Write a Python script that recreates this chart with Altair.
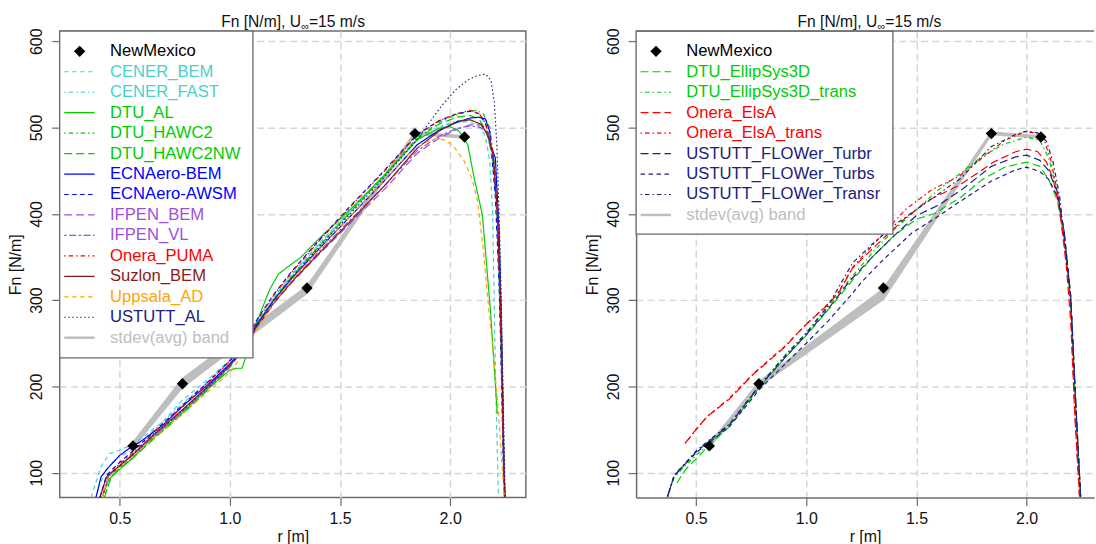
import altair as alt
import pandas as pd

# ------------------------------------------------------------------
# New Mexico measurements and the stdev(avg) band edges
# ------------------------------------------------------------------
nm_r = [0.56, 0.785, 1.35, 1.84, 2.065]
nm_fn = [131, 203, 314, 493, 489]
band_left_lo = [129, 199, 308, 492, 488]
band_left_hi = [135, 209, 316, 494.5, 490]
band_right_lo = [129.5, 200, 301, 492, 488]
band_right_hi = [133, 205, 313, 494.5, 490]

# ------------------------------------------------------------------
# Left panel: BEM / lifting-line / actuator codes
# ------------------------------------------------------------------
cener_bem_r = [0.37, 0.415, 0.453, 0.50, 0.543, 0.60, 0.70, 0.785, 0.90, 1.00, 1.06, 1.12, 1.20, 1.28, 1.40, 1.55, 1.70, 1.85, 1.95, 2.03, 2.08, 2.13, 2.16, 2.18, 2.193, 2.206, 2.219]
cener_bem_fn = [71, 107, 122, 126, 131, 140, 160, 184, 208, 230, 248, 273, 303, 330, 364, 405, 445, 486, 500, 506, 507, 502, 490, 460, 400, 207, 72]

cener_fast_r = [0.39, 0.43, 0.47, 0.50, 0.56, 0.65, 0.785, 0.90, 1.00, 1.06, 1.12, 1.20, 1.28, 1.40, 1.55, 1.70, 1.85, 1.95, 2.03, 2.09, 2.14, 2.17, 2.195, 2.212, 2.225, 2.235, 2.243, 2.247]
cener_fast_fn = [71, 100, 113, 118, 127, 148, 180, 205, 229, 247, 272, 303, 329, 363, 404, 444, 485, 501, 508, 509, 503, 490, 460, 400, 300, 200, 100, 72]

dtu_al_r = [0.42, 0.45, 0.50, 0.56, 0.65, 0.785, 0.90, 1.00, 1.03, 1.055, 1.07, 1.12, 1.18, 1.22, 1.26, 1.32, 1.40, 1.55, 1.70, 1.85, 1.95, 2.00, 2.04, 2.08, 2.11, 2.146, 2.184, 2.214]
dtu_al_fn = [71, 92, 104, 117, 140, 170, 197, 219, 221, 221, 232, 273, 312, 330, 338, 349, 370, 406, 444, 486, 499, 501, 496, 480, 440, 399, 284, 168]

dtu_hawc2_r = [0.43, 0.46, 0.50, 0.56, 0.65, 0.785, 0.90, 1.00, 1.06, 1.12, 1.20, 1.28, 1.40, 1.55, 1.70, 1.85, 1.95, 2.03, 2.09, 2.12, 2.15, 2.18, 2.205, 2.222, 2.232, 2.24, 2.246, 2.25]
dtu_hawc2_fn = [71, 95, 106, 118, 139, 169, 197, 223, 244, 268, 300, 327, 361, 403, 445, 488, 506, 515, 519, 520, 516, 500, 450, 380, 280, 180, 100, 72]

dtu_hawc2nw_r = [0.43, 0.46, 0.50, 0.56, 0.65, 0.785, 0.90, 1.00, 1.06, 1.12, 1.20, 1.28, 1.40, 1.55, 1.70, 1.85, 1.95, 2.03, 2.09, 2.13, 2.16, 2.19, 2.21, 2.225, 2.235, 2.243, 2.248]
dtu_hawc2nw_fn = [71, 94, 105, 117, 138, 168, 196, 222, 243, 270, 301, 327, 361, 403, 444, 487, 504, 512, 514, 510, 498, 470, 410, 300, 200, 100, 72]

ecn_bem_r = [0.392, 0.415, 0.445, 0.50, 0.543, 0.60, 0.70, 0.785, 0.90, 1.00, 1.06, 1.12, 1.20, 1.28, 1.40, 1.55, 1.70, 1.85, 1.95, 2.03, 2.09, 2.13, 2.16, 2.18, 2.185, 2.205, 2.222, 2.232, 2.24, 2.246]
ecn_bem_fn = [71, 95, 105, 120, 128, 137, 156, 177, 202, 226, 245, 271, 300, 325, 358, 398, 438, 480, 497, 506, 511, 512, 510, 495, 478, 465, 380, 280, 170, 72]

ecn_awsm_r = [0.41, 0.44, 0.50, 0.56, 0.65, 0.785, 0.90, 1.00, 1.06, 1.12, 1.20, 1.28, 1.40, 1.55, 1.70, 1.85, 1.95, 2.03, 2.09, 2.13, 2.16, 2.185, 2.205, 2.222, 2.233, 2.241, 2.247]
ecn_awsm_fn = [71, 97, 112, 125, 146, 178, 205, 230, 250, 276, 307, 333, 368, 410, 450, 492, 508, 516, 519, 516, 505, 480, 420, 320, 210, 110, 72]

ifpen_bem_r = [0.42, 0.45, 0.50, 0.56, 0.65, 0.785, 0.90, 1.00, 1.06, 1.12, 1.20, 1.28, 1.40, 1.55, 1.70, 1.85, 1.95, 2.03, 2.09, 2.14, 2.17, 2.195, 2.215, 2.228, 2.237, 2.244, 2.249]
ifpen_bem_fn = [71, 95, 107, 120, 141, 171, 198, 223, 242, 267, 296, 320, 352, 390, 428, 470, 488, 498, 503, 503, 495, 470, 400, 300, 200, 100, 72]

ifpen_vl_r = [0.42, 0.45, 0.50, 0.56, 0.65, 0.785, 0.90, 1.00, 1.06, 1.12, 1.20, 1.28, 1.40, 1.55, 1.70, 1.85, 1.95, 2.03, 2.09, 2.14, 2.17, 2.195, 2.215, 2.228, 2.237, 2.244, 2.249]
ifpen_vl_fn = [71, 96, 108, 121, 142, 172, 199, 224, 243, 268, 298, 322, 355, 394, 432, 473, 490, 499, 502, 500, 492, 468, 400, 300, 200, 100, 72]

onera_puma_r = [0.42, 0.45, 0.50, 0.56, 0.65, 0.785, 0.90, 1.00, 1.06, 1.12, 1.20, 1.28, 1.40, 1.55, 1.70, 1.85, 1.95, 2.03, 2.09, 2.13, 2.16, 2.19, 2.21, 2.225, 2.235, 2.243, 2.248]
onera_puma_fn = [71, 97, 110, 123, 145, 176, 204, 229, 249, 275, 306, 332, 367, 409, 449, 491, 508, 516, 520, 517, 505, 478, 420, 320, 210, 110, 72]

suzlon_bem_r = [0.41, 0.44, 0.50, 0.56, 0.65, 0.785, 0.90, 1.00, 1.06, 1.12, 1.20, 1.28, 1.40, 1.55, 1.70, 1.85, 1.95, 2.03, 2.09, 2.14, 2.17, 2.195, 2.215, 2.228, 2.237, 2.244, 2.249]
suzlon_bem_fn = [71, 95, 108, 121, 143, 173, 200, 225, 243, 268, 297, 321, 353, 392, 432, 476, 496, 507, 509, 504, 492, 468, 400, 300, 200, 100, 72]

uppsala_ad_r = [0.42, 0.45, 0.50, 0.56, 0.65, 0.785, 0.90, 1.00, 1.06, 1.12, 1.20, 1.28, 1.40, 1.55, 1.70, 1.80, 1.88, 1.93, 1.97, 2.01, 2.064, 2.10, 2.124, 2.15, 2.17, 2.195, 2.22, 2.235, 2.245]
uppsala_ad_fn = [71, 95, 107, 119, 139, 168, 194, 216, 238, 266, 298, 323, 357, 398, 438, 467, 482, 487, 486, 480, 461, 440, 415, 360, 303, 240, 168, 110, 72]

ustutt_al_r = [0.41, 0.44, 0.50, 0.56, 0.65, 0.785, 0.90, 1.00, 1.06, 1.12, 1.20, 1.28, 1.40, 1.55, 1.70, 1.85, 1.92, 1.97, 2.03, 2.08, 2.12, 2.16, 2.185, 2.20, 2.212, 2.222, 2.232, 2.242, 2.25]
ustutt_al_fn = [71, 96, 108, 121, 143, 172, 199, 224, 244, 270, 300, 326, 360, 401, 442, 486, 511, 528, 545, 555, 560, 562, 555, 530, 480, 400, 300, 170, 72]

# ------------------------------------------------------------------
# Right panel: CFD codes
# ------------------------------------------------------------------
ellipsys_r = [0.413, 0.45, 0.50, 0.56, 0.65, 0.785, 0.90, 1.00, 1.10, 1.20, 1.30, 1.40, 1.50, 1.58, 1.70, 1.80, 1.90, 2.00, 2.06, 2.10, 2.14, 2.17, 2.20, 2.222, 2.245]
ellipsys_fn = [88, 103, 116, 132, 153, 198, 232, 259, 289, 320, 350, 375, 394, 400, 419, 440, 454, 460, 455, 440, 415, 370, 300, 180, 72]

ellipsys_trans_r = [0.37, 0.40, 0.45, 0.50, 0.56, 0.65, 0.785, 0.90, 1.00, 1.10, 1.20, 1.30, 1.40, 1.50, 1.60, 1.70, 1.80, 1.90, 2.00, 2.06, 2.10, 2.14, 2.17, 2.20, 2.222, 2.245]
ellipsys_trans_fn = [72, 94, 108, 120, 134, 154, 200, 235, 262, 292, 325, 355, 382, 405, 428, 447, 467, 481, 489, 485, 465, 425, 372, 300, 180, 72]

elsa_r = [0.45, 0.50, 0.55, 0.65, 0.76, 0.90, 1.00, 1.10, 1.15, 1.21, 1.27, 1.36, 1.45, 1.55, 1.70, 1.85, 1.95, 2.00, 2.05, 2.09, 2.12, 2.15, 2.18, 2.20, 2.218, 2.24]
elsa_fn = [134, 150, 165, 185, 214, 245, 272, 295, 310, 337, 352, 374, 395, 415, 434, 460, 472, 475, 472, 460, 440, 405, 340, 275, 170, 72]

elsa_trans_r = [0.45, 0.50, 0.55, 0.65, 0.76, 0.90, 1.00, 1.10, 1.15, 1.21, 1.27, 1.36, 1.45, 1.57, 1.69, 1.80, 1.90, 1.99, 2.04, 2.08, 2.11, 2.14, 2.17, 2.20, 2.218, 2.24]
elsa_trans_fn = [134, 150, 165, 186, 215, 246, 272, 296, 311, 338, 355, 380, 405, 428, 443, 465, 485, 495, 494, 485, 462, 425, 370, 295, 170, 72]

flower_turbr_r = [0.37, 0.40, 0.45, 0.50, 0.56, 0.65, 0.79, 0.92, 1.00, 1.10, 1.20, 1.30, 1.40, 1.50, 1.60, 1.70, 1.84, 1.95, 2.00, 2.06, 2.10, 2.14, 2.17, 2.20, 2.225, 2.245]
flower_turbr_fn = [72, 96, 110, 124, 137, 155, 201, 238, 260, 290, 323, 350, 375, 398, 410, 427, 455, 466, 468, 462, 450, 425, 380, 305, 170, 72]

flower_turbs_r = [0.37, 0.40, 0.45, 0.50, 0.56, 0.65, 0.79, 0.92, 1.00, 1.10, 1.20, 1.255, 1.35, 1.48, 1.58, 1.69, 1.84, 1.95, 2.00, 2.06, 2.10, 2.14, 2.17, 2.20, 2.225, 2.245]
flower_turbs_fn = [72, 96, 110, 123, 135, 153, 197, 230, 250, 276, 305, 322, 347, 378, 394, 413, 438, 451, 454, 449, 440, 420, 380, 305, 170, 72]

flower_transr_r = [0.37, 0.40, 0.45, 0.50, 0.56, 0.65, 0.79, 0.92, 1.00, 1.10, 1.21, 1.30, 1.40, 1.50, 1.60, 1.70, 1.84, 1.95, 2.00, 2.05, 2.09, 2.12, 2.15, 2.18, 2.20, 2.225, 2.245]
flower_transr_fn = [72, 97, 111, 125, 138, 156, 202, 240, 262, 294, 343, 365, 387, 405, 423, 441, 478, 492, 496, 494, 484, 460, 420, 350, 300, 170, 72]

# ------------------------------------------------------------------
# Styling
# ------------------------------------------------------------------
FONT = "Liberation Sans"
FRAME = "#6B6B6B"
GRID = "#D6D6D6"
GRAY = "#BEBEBE"
TXT = "#111111"

SOLID = [1, 0]
DASHED = [4.5, 3.5]
LONGDASH = [8, 4]
DOTDASH = [1.5, 3, 4.5, 3]
TWODASH = [2.5, 2.5, 7, 2.5]
DOTTED = [1.5, 2.5]

CYAN, GREEN, BLUE, PURPLE = "#48D1CC", "#00CD00", "#0000FF", "#9B50E0"
RED, DARKRED, ORANGE, NAVY = "#FF0000", "#8B1A1A", "#FFA500", "#202080"

left_series = [
    ("CENER_BEM", cener_bem_r, cener_bem_fn, CYAN, DASHED),
    ("CENER_FAST", cener_fast_r, cener_fast_fn, CYAN, DOTDASH),
    ("DTU_AL", dtu_al_r, dtu_al_fn, GREEN, SOLID),
    ("DTU_HAWC2", dtu_hawc2_r, dtu_hawc2_fn, GREEN, DOTDASH),
    ("DTU_HAWC2NW", dtu_hawc2nw_r, dtu_hawc2nw_fn, GREEN, LONGDASH),
    ("ECNAero-BEM", ecn_bem_r, ecn_bem_fn, BLUE, SOLID),
    ("ECNAero-AWSM", ecn_awsm_r, ecn_awsm_fn, BLUE, DASHED),
    ("IFPEN_BEM", ifpen_bem_r, ifpen_bem_fn, PURPLE, LONGDASH),
    ("IFPEN_VL", ifpen_vl_r, ifpen_vl_fn, PURPLE, TWODASH),
    ("Onera_PUMA", onera_puma_r, onera_puma_fn, RED, DOTDASH),
    ("Suzlon_BEM", suzlon_bem_r, suzlon_bem_fn, DARKRED, SOLID),
    ("Uppsala_AD", uppsala_ad_r, uppsala_ad_fn, ORANGE, DASHED),
    ("USTUTT_AL", ustutt_al_r, ustutt_al_fn, NAVY, DOTTED),
]

right_series = [
    ("DTU_EllipSys3D", ellipsys_r, ellipsys_fn, GREEN, LONGDASH),
    ("DTU_EllipSys3D_trans", ellipsys_trans_r, ellipsys_trans_fn, GREEN, DOTDASH),
    ("Onera_ElsA", elsa_r, elsa_fn, RED, LONGDASH),
    ("Onera_ElsA_trans", elsa_trans_r, elsa_trans_fn, RED, DOTDASH),
    ("USTUTT_FLOWer_Turbr", flower_turbr_r, flower_turbr_fn, NAVY, LONGDASH),
    ("USTUTT_FLOWer_Turbs", flower_turbs_r, flower_turbs_fn, NAVY, DASHED),
    ("USTUTT_FLOWer_Transr", flower_transr_r, flower_transr_fn, NAVY, DOTDASH),
]

R_MIN = 0.2277
FN_MIN, FN_MAX = 71.2, 611.8
PLOT_H = 468.5
ROW0, ROW_STEP = 20.3, 20.55


def one():
    return alt.Data(values=[{"k": 0}])


def panel(series, lo, hi, width, r_max, legend_w, legend_h, title_cx, full_frame):
    names = [s[0] for s in series]
    rows = []
    for name, rs, fns, _, _ in series:
        for i, (r, f) in enumerate(zip(rs, fns)):
            rows.append({"name": name, "r": r, "fn": f, "i": i})
    lines_df = pd.DataFrame(rows)

    xs = alt.Scale(domain=[R_MIN, r_max], nice=False, zero=False)
    ys = alt.Scale(domain=[FN_MIN, FN_MAX], nice=False, zero=False)
    common = dict(
        grid=True, gridDash=[7, 4], gridColor=GRID, gridWidth=1.5,
        domain=not full_frame, domainColor=FRAME, domainWidth=1.5,
        tickSize=8, tickColor=FRAME, tickWidth=1.2,
        labelFontSize=16, labelColor=TXT, labelFont=FONT,
        titleFontSize=16, titleFontWeight="normal", titleColor=TXT, titleFont=FONT,
    )
    xaxis = alt.Axis(values=[0.5, 1.0, 1.5, 2.0], format=".1f", title="r [m]",
                     labelPadding=5, titlePadding=2, **common)
    yaxis = alt.Axis(values=[100, 200, 300, 400, 500, 600], format="d", title="Fn [N/m]",
                     labelAngle=-90, labelAlign="center", labelBaseline="bottom",
                     labelPadding=7, titlePadding=5, **common)

    X = alt.X("r:Q", scale=xs, axis=xaxis)

    band = alt.Chart(pd.DataFrame({"r": nm_r, "lo": lo, "hi": hi})).mark_area(
        color=GRAY, stroke=GRAY, strokeWidth=1.8, opacity=1, clip=True
    ).encode(x=X, y=alt.Y("lo:Q", scale=ys, axis=yaxis), y2="hi:Q")

    lines = alt.Chart(lines_df).mark_line(strokeWidth=1.2, clip=True).encode(
        x=X,
        y=alt.Y("fn:Q", scale=ys, axis=yaxis),
        color=alt.Color("name:N", scale=alt.Scale(domain=names, range=[s[3] for s in series]), legend=None),
        strokeDash=alt.StrokeDash("name:N", scale=alt.Scale(domain=names, range=[s[4] for s in series]), legend=None),
        order="i:Q",
    )

    points = alt.Chart(pd.DataFrame({"r": nm_r, "fn": nm_fn})).mark_point(
        shape="diamond", filled=True, size=130, color="black", opacity=1, clip=True
    ).encode(x=X, y=alt.Y("fn:Q", scale=ys, axis=yaxis))

    layers = [band, lines, points]

    # legend box
    layers.append(
        alt.Chart(one()).mark_rect(fill="white", stroke=FRAME, strokeWidth=1.3).encode(
            x=alt.value(0), x2=alt.value(legend_w), y=alt.value(0), y2=alt.value(legend_h)
        )
    )
    entries = [("NewMexico", "black", None)] + [(s[0], s[3], s[4]) for s in series] + [("stdev(avg) band", GRAY, "band")]
    for k, (label, col, dash) in enumerate(entries):
        yy = ROW0 + k * ROW_STEP
        if dash is None:
            layers.append(
                alt.Chart(one()).mark_point(shape="diamond", filled=True, size=130, color="black", opacity=1).encode(
                    x=alt.value(20), y=alt.value(yy)
                )
            )
        elif dash == "band":
            layers.append(
                alt.Chart(one()).mark_rule(color=GRAY, strokeWidth=2.5).encode(
                    x=alt.value(4.5), x2=alt.value(35), y=alt.value(yy)
                )
            )
        else:
            layers.append(
                alt.Chart(one()).mark_rule(color=col, strokeWidth=1.2, strokeDash=dash).encode(
                    x=alt.value(4.5), x2=alt.value(35), y=alt.value(yy)
                )
            )
        layers.append(
            alt.Chart(one()).mark_text(align="left", baseline="middle", fontSize=16.7, font=FONT, color=col).encode(
                x=alt.value(50.5), y=alt.value(yy), text=alt.value(label)
            )
        )

    # panel title: Fn [N/m], U∞=15 m/s (with subscript infinity)
    layers.append(
        alt.Chart(one()).mark_text(align="right", baseline="alphabetic", fontSize=15.7, font=FONT, color=TXT).encode(
            x=alt.value(title_cx + 8.1), y=alt.value(-4), text=alt.value("Fn [N/m], U")
        )
    )
    layers.append(
        alt.Chart(one()).mark_text(align="left", baseline="alphabetic", fontSize=11, font=FONT, color=TXT).encode(
            x=alt.value(title_cx + 8.4), y=alt.value(-1), text=alt.value("\u221e")
        )
    )
    layers.append(
        alt.Chart(one()).mark_text(align="left", baseline="alphabetic", fontSize=15.7, font=FONT, color=TXT).encode(
            x=alt.value(title_cx + 16.2), y=alt.value(-4), text=alt.value("=15 m/s")
        )
    )

    if not full_frame:
        layers.append(
            alt.Chart(one()).mark_rule(color=FRAME, strokeWidth=1.5).encode(
                x=alt.value(0), x2=alt.value(width), y=alt.value(0)
            )
        )

    ch = alt.layer(*layers).properties(width=width, height=PLOT_H)
    if not full_frame:
        ch = ch.properties(view=alt.ViewBackground(stroke="transparent"))
    return ch


left = panel(left_series, band_left_lo, band_left_hi, 468.3, 2.3437, 194.1, 328.3, 234.2, True)
right = panel(right_series, band_right_lo, band_right_hi, 460, 2.3057, 258, 204, 234.2, False)

chart = alt.hconcat(left, right, spacing=56).resolve_scale(
    color="independent", strokeDash="independent"
).properties(
    padding={"left": 7, "top": 12, "right": 0, "bottom": 0}
).configure(font=FONT).configure_view(stroke=FRAME, strokeWidth=1.5)

chart.save("out.html", embed_options={"renderer": "svg", "actions": False})
